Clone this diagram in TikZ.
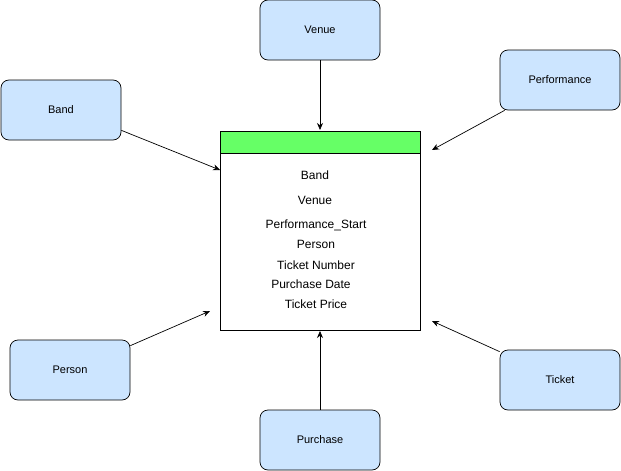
\documentclass[tikz,border=0pt]{standalone}
\usepackage{fontspec}
\setmainfont{Liberation Sans}
\usetikzlibrary{arrows.meta}
\definecolor{entityblue}{HTML}{CCE5FF}
\definecolor{headgreen}{HTML}{66FF66}
\begin{document}
\begin{tikzpicture}[x=1pt,y=-1pt,
        entity/.style={draw, fill=entityblue, rounded corners=8pt,
           minimum width=120pt, minimum height=60pt, font=\fontsize{11}{12}\selectfont},
        attr/.style={font=\fontsize{12}{13}\selectfont, inner sep=0pt},
        link/.style={-{Stealth[length=7pt,width=6pt]}, line width=0.7pt},
    ]
    \useasboundingbox (0,0) rectangle (621,471);
    % the table in the middle
    \draw[line width=0.7pt, fill=white] (220,131) rectangle (420,330);
    \draw[line width=0.7pt, fill=headgreen] (220,131) rectangle (420,153);
    \draw
    	(315,175) node[attr] (aband) {Band}
    	(315,200) node[attr] (avenue) {Venue}
    	(316,225) node[attr] (astart) {Performance\_Start}
    	(316,244) node[attr] (aperson) {Person}
    	(316,265) node[attr] (anumber) {Ticket Number}
    	(311,284) node[attr] (adate) {Purchase Date}
    	(316,304) node[attr] (aprice) {Ticket Price}
	    ;
    % the entities round it
    \draw[line width=0.7pt]
    	(320,30) node[entity] (venue) {Venue}
    	(560,80) node[entity] (performance) {Performance}
    	(61,110) node[entity] (band) {Band}
    	(70,370) node[entity] (person) {Person}
    	(320,440) node[entity] (purchase) {Purchase}
    	(560,380) node[entity] (ticket) {Ticket}
	    ;
    \coordinate (tvenue) at (320,130);
    \coordinate (tband) at (220,170);
    \coordinate (tperformance) at (432,150);
    \coordinate (tperson) at (210,311);
    \coordinate (tpurchase) at (320,331);
    \coordinate (tticket) at (432,321);
	\draw[link] (venue) -- (tvenue);
	\draw[link] (band.south east) ++(0,-10) -- (tband);
	\draw[link] (performance.south west) ++(5,0) -- (tperformance);
	\draw[link] (person.north east) ++(0,6) -- (tperson);
	\draw[link] (purchase) -- (tpurchase);
	\draw[link] (ticket.north west) ++(0,2) -- (tticket);
\end{tikzpicture}
\end{document}
